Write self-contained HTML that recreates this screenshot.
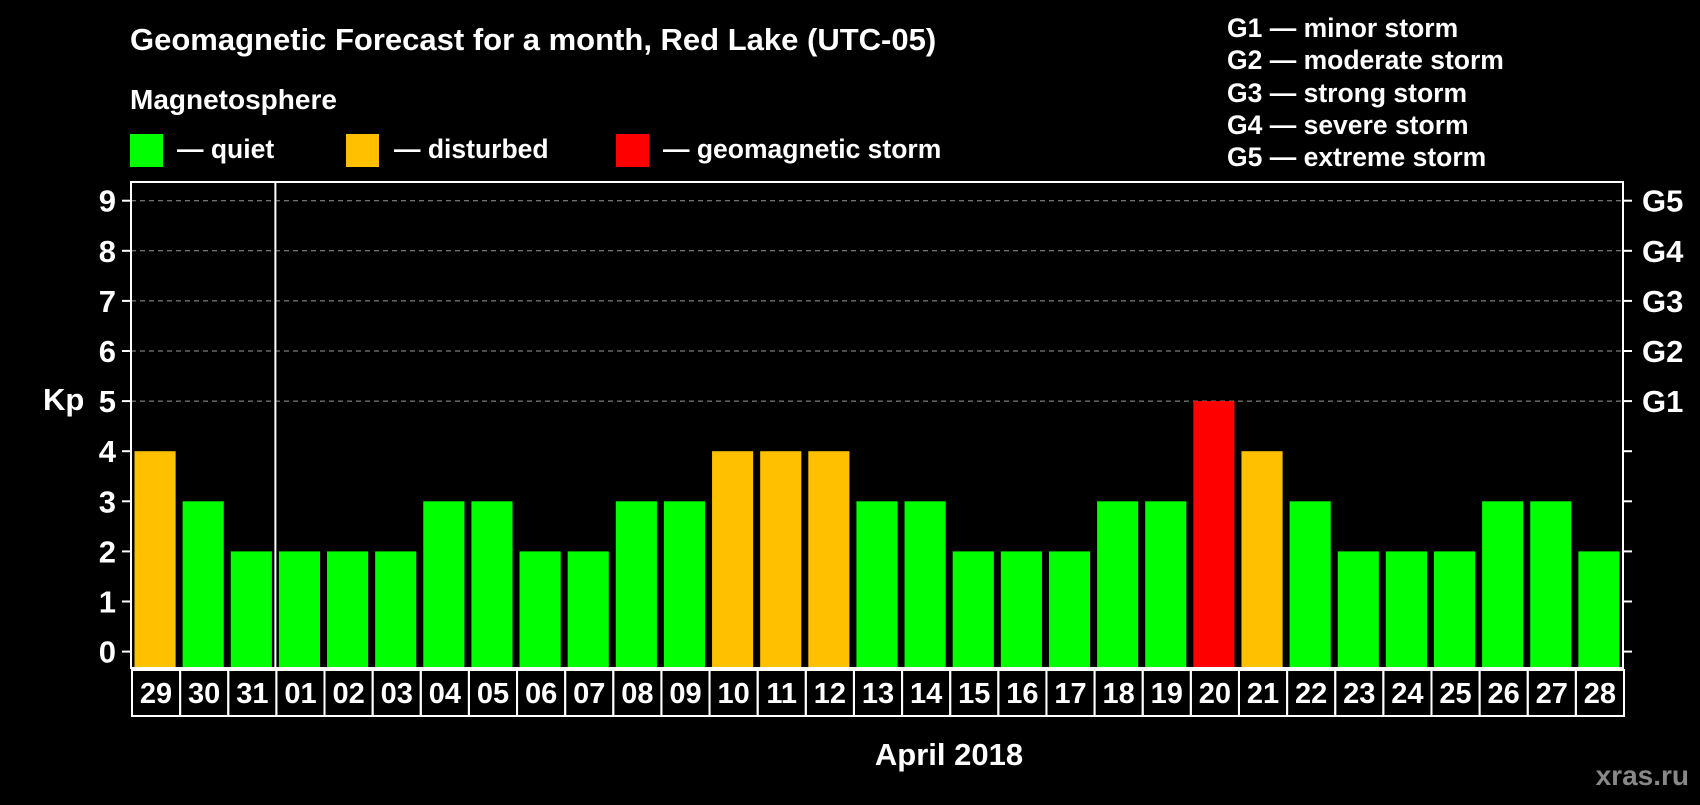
<!DOCTYPE html>
<html><head><meta charset="utf-8"><style>
body{margin:0;background:#000;width:1700px;height:800px;overflow:hidden;font-family:"Liberation Sans",sans-serif;}
svg text{font-family:"Liberation Sans",sans-serif;font-weight:bold;fill:#fff;}
</style></head><body>
<svg id="chart" width="1700" height="800" xmlns="http://www.w3.org/2000/svg">
<text x="130" y="50" font-size="31">Geomagnetic Forecast for a month, Red Lake (UTC-05)</text>
<text x="130" y="109" font-size="28">Magnetosphere</text>
<g><rect x="130" y="134" width="33" height="33" fill="#00ff00"/><text x="177" y="158" font-size="26.5">— quiet</text></g>
<g><rect x="346" y="134" width="33" height="33" fill="#ffc000"/><text x="394" y="158" font-size="26.5">— disturbed</text></g>
<g><rect x="616" y="134" width="33" height="33" fill="#ff0000"/><text x="663" y="158" font-size="26.5">— geomagnetic storm</text></g>
<g font-size="26.5">
<text x="1227" y="37">G1 — minor storm</text>
<text x="1227" y="69">G2 — moderate storm</text>
<text x="1227" y="102">G3 — strong storm</text>
<text x="1227" y="134">G4 — severe storm</text>
<text x="1227" y="166">G5 — extreme storm</text>
</g>
<text x="43" y="410" font-size="31">Kp</text>
<text x="949" y="765" font-size="31" text-anchor="middle">April 2018</text>
<text x="1689" y="785" font-size="28" text-anchor="end" style="fill:#888">xras.ru</text>
<g id="plot"></g>
</svg>
<script>
const days=["29","30","31","01","02","03","04","05","06","07","08","09","10","11","12","13","14","15","16","17","18","19","20","21","22","23","24","25","26","27","28"];
const kp=[4,3,2,2,2,2,3,3,2,2,3,3,4,4,4,3,3,2,2,2,3,3,5,4,3,2,2,2,3,3,2];
const yTicks=[0,1,2,3,4,5,6,7,8,9];
const gLabels=["G1","G2","G3","G4","G5"];
const NS="http://www.w3.org/2000/svg";
const L=131,R=1623,T=182,B=668;
const slot=(R-L)/days.length;
const y=v=>651.6-v*50.1;
const x=i=>L+i*slot;
const g=document.getElementById('plot');
function mk(t,a){const e=document.createElementNS(NS,t);for(const k in a)e.setAttribute(k,a[k]);g.appendChild(e);return e;}
yTicks.forEach(v=>{
  if(v>=5){const l=mk('line',{x1:L,x2:R,y1:y(v),y2:y(v),stroke:'#999','stroke-dasharray':'5,4','stroke-width':1});
  
  }
  const t1=mk('line',{x1:L-9,x2:L,y1:y(v),y2:y(v),stroke:'#fff','stroke-width':2});
  
  
  const t2=mk('line',{x1:R,x2:R+9,y1:y(v),y2:y(v),stroke:'#fff','stroke-width':2});
  
  
  const tx=mk('text',{x:116,y:y(v)+11,'font-size':31,'text-anchor':'end'});tx.textContent=v;
  
  
});
gLabels.forEach((s,i)=>{const t=mk('text',{x:1642,y:y(5+i)+11,'font-size':31});t.textContent=s;
  
  });
kp.forEach((v,i)=>{
  const c=v>=5?'#ff0000':v>=4?'#ffc000':'#00ff00';
  const r=mk('rect',{x:x(i)+3.5,y:y(v),width:slot-7,height:B-y(v),fill:c});
  
  
  const b=mk('rect',{x:x(i)+1,y:B+2,width:slot,height:46,fill:'none',stroke:'#fff','stroke-width':2});
  
  
  const t=mk('text',{x:x(i)+slot/2+1,y:B+35,'font-size':29,'text-anchor':'middle'});t.textContent=days[i];
  
  
});
const fr=mk('rect',{x:L,y:T,width:R-L,height:B-T,fill:'none',stroke:'#fff','stroke-width':2});


const ml=mk('line',{x1:x(3),x2:x(3),y1:T,y2:B,stroke:'#fff','stroke-width':2});


</script>
</body></html>
